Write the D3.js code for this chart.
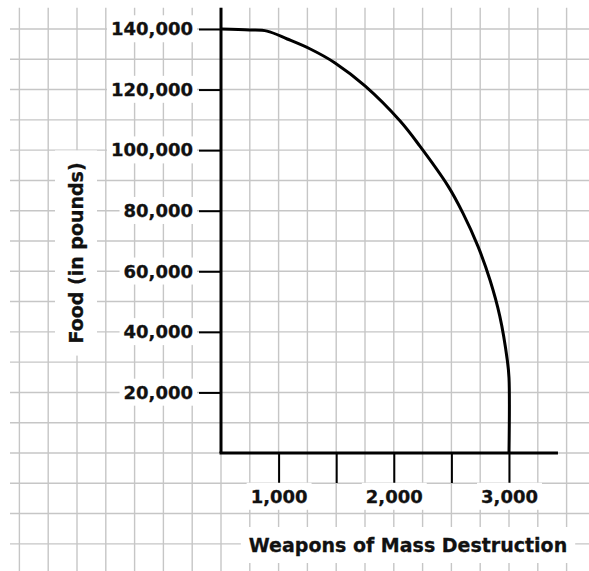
<!DOCTYPE html>
<html><head><meta charset="utf-8">
<script src="https://cdn.jsdelivr.net/npm/d3@7"></script>
<style>
html,body{margin:0;padding:0;background:#fff;}
svg{display:block;}
text{font-family:"DejaVu Sans",Verdana,sans-serif;font-weight:bold;fill:#111;stroke:#111;stroke-width:0.3px;}
</style></head>
<body>
<svg id="chart" width="589" height="571"></svg>
<script>
// ---- data ----
const weapons = [500, 750, 900, 1075, 1275, 1490, 1750, 2055, 2225, 2470, 2600, 2730, 2835, 2920, 2985, 3000, 3000];
const food    = [140000, 139700, 139300, 136700, 133400, 128800, 121200, 109600, 101400, 88200, 79200, 68300, 57100, 45200, 30700, 24800, 0];
const xTicks = [1000, 1500, 2000, 2500, 3000];
const xTickLabels = ["1,000", "", "2,000", "", "3,000"];
const yTicks = [20000, 40000, 60000, 80000, 100000, 120000, 140000];
const yTickLabels = ["20,000", "40,000", "60,000", "80,000", "100,000", "120,000", "140,000"];
const xTitle = "Weapons of Mass Destruction";
const yTitle = "Food (in pounds)";
const xAxisEnd = 3425;   // where the x axis line stops
const yAxisTop = 147000; // where the y axis line stops

const svg = d3.select("#chart");
const W = 589, H = 571;

const x = d3.scaleLinear().domain([500, 3000]).range([221, 509]);
const y = d3.scaleLinear().domain([0, 140000]).range([453, 29]);

// ---- background grid ----
const grid = svg.append("g").attr("stroke", "#c6c6c6").attr("stroke-width", 1.4);
d3.range(-1250, 3501, 250).forEach(v => {
  grid.append("line").attr("x1", x(v)).attr("x2", x(v)).attr("y1", y(yAxisTop)).attr("y2", H);
});
d3.range(-30000, 140001, 10000).forEach(v => {
  grid.append("line").attr("x1", 10).attr("x2", W).attr("y1", y(v)).attr("y2", y(v));
});

function bg(sel, padX, padY) {
  sel.each(function() {
    const b = this.getBBox();
    d3.select(this.parentNode).insert("rect", () => this)
      .attr("x", b.x - padX).attr("y", b.y - padY)
      .attr("width", b.width + 2 * padX).attr("height", b.height + 2 * padY)
      .attr("fill", "#fff");
  });
}

// ---- y axis ----
const yAxis = d3.axisLeft(y).tickValues(yTicks)
  .tickFormat((d, i) => yTickLabels[i]).tickSize(22).tickPadding(6);
const gy = svg.append("g").attr("transform", `translate(${x(500)},0)`).call(yAxis);
gy.select(".domain").remove();
gy.selectAll(".tick line").attr("stroke", "#000").attr("stroke-width", 2);
gy.selectAll(".tick text").attr("font-size", 18).attr("font-family", "DejaVu Sans").attr("font-weight", "bold").attr("fill", "#111");
bg(gy.selectAll(".tick text"), 4, 3);

// ---- x axis ----
const xAxis = d3.axisBottom(x).tickValues(xTicks)
  .tickFormat((d, i) => xTickLabels[i]).tickSize(30).tickPadding(7);
const gx = svg.append("g").attr("transform", `translate(0,${y(0)})`).call(xAxis);
gx.select(".domain").remove();
gx.selectAll(".tick line").attr("stroke", "#000").attr("stroke-width", 2);
gx.selectAll(".tick text").attr("font-size", 18).attr("font-family", "DejaVu Sans").attr("font-weight", "bold").attr("fill", "#111");
bg(gx.selectAll(".tick text").filter(function(){ return this.textContent !== ""; }), 4, 3);

// axis lines
svg.append("line").attr("x1", x(500)).attr("x2", x(500)).attr("y1", y(yAxisTop)).attr("y2", y(0))
  .attr("stroke", "#000").attr("stroke-width", 3);
svg.append("line").attr("x1", x(500) - 1.5).attr("x2", x(xAxisEnd)).attr("y1", y(0)).attr("y2", y(0))
  .attr("stroke", "#000").attr("stroke-width", 3);

// ---- titles ----
const gt = svg.append("g");
const xt = gt.append("text").attr("x", 408).attr("y", 552).attr("text-anchor", "middle")
  .attr("font-size", 19).text(xTitle);
const gt2 = svg.append("g");
const yt = gt2.append("text").attr("transform", "translate(83,253) rotate(-90)")
  .attr("text-anchor", "middle").attr("font-size", 19).text(yTitle);
bg(xt, 8, 7);
(function(){
  const b = yt.node().getBBox();
  gt2.insert("rect", "text")
    .attr("transform", "translate(83,253) rotate(-90)")
    .attr("x", b.x - 12).attr("y", b.y - 10).attr("width", b.width + 24).attr("height", b.height + 20)
    .attr("fill", "#fff");
})();

// ---- PPF curve ----
const pts = weapons.map((w, i) => [w, food[i]]);
const line = d3.line().x(d => x(d[0])).y(d => y(d[1])).curve(d3.curveCatmullRom.alpha(0.5));
svg.append("path").datum(pts).attr("d", line)
  .attr("fill", "none").attr("stroke", "#000").attr("stroke-width", 3).attr("stroke-linejoin", "round");
</script>
</body></html>
